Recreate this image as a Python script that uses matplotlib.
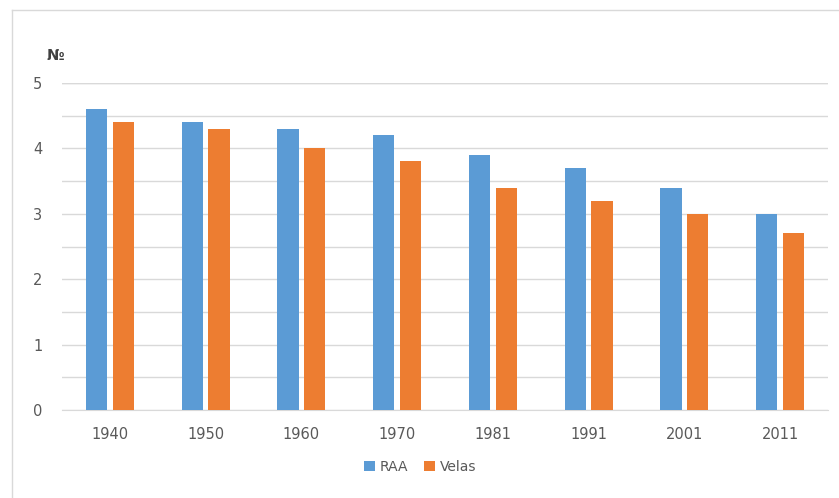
import matplotlib
matplotlib.use("Agg")
import matplotlib.pyplot as plt
import numpy as np
from matplotlib.lines import Line2D

categories = ["1940", "1950", "1960", "1970", "1981", "1991", "2001", "2011"]
raa = [4.6, 4.4, 4.3, 4.2, 3.9, 3.7, 3.4, 3.0]
velas = [4.4, 4.3, 4.0, 3.8, 3.4, 3.2, 3.0, 2.7]

W, H = 839, 498
fig = plt.figure(figsize=(W/100, H/100), dpi=100)
# outer frame (top and left edges visible)
fig.lines.append(Line2D([12/W, 12/W], [0, 1-10/H], transform=fig.transFigure, color="#D9D9D9", lw=1))
fig.lines.append(Line2D([12/W, 1], [1-10/H, 1-10/H], transform=fig.transFigure, color="#D9D9D9", lw=1))

ax = fig.add_axes([62/W, 1-410/H, (828-62)/W, (410-83)/H])

x = np.arange(len(categories))
bw = 0.22
gap = 0.06
ax.bar(x - (bw+gap)/2, raa, bw, color="#5B9BD5", label="RAA", zorder=3)
ax.bar(x + (bw+gap)/2, velas, bw, color="#ED7D31", label="Velas", zorder=3)

ax.set_xlim(-0.5, len(categories)-0.5)
ax.set_ylim(0, 5)
ax.set_yticks(np.arange(0, 5.01, 1))
ax.set_yticks(np.arange(0.5, 5, 1), minor=True)
ax.grid(axis="y", which="both", color="#D9D9D9", linewidth=1, zorder=0)
ax.set_xticks(x)
ax.set_xticklabels(categories)
for s in ["top", "right", "left"]:
    ax.spines[s].set_visible(False)
ax.spines["bottom"].set_color("#D9D9D9")
ax.tick_params(axis="both", which="both", length=0, colors="#595959", labelsize=10.5)
ax.tick_params(axis="x", pad=12)
ax.tick_params(axis="y", pad=14)
ax.axhline(5, color="#D9D9D9", linewidth=1, zorder=0)

fig.text(55/W, 1-55/H, "№", ha="center", va="center", fontsize=10.5, color="#404040", fontweight="bold")

fig.legend(loc="center", bbox_to_anchor=(420/W, 1-467/H), ncol=2, frameon=False,
           fontsize=10, handlelength=0.8, handleheight=0.8, handletextpad=0.3,
           columnspacing=1.2, labelcolor="#595959")
fig.savefig("out.png", dpi=100, facecolor="white")
